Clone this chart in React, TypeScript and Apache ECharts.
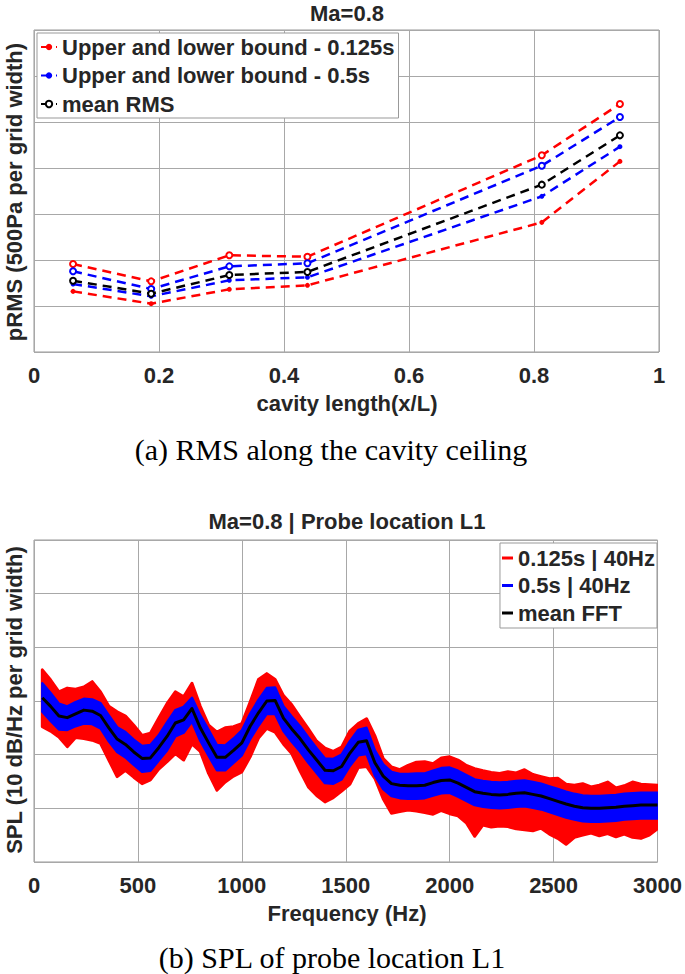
import React, { useEffect, useRef } from 'react';
import * as echarts from 'echarts';

// ---------- (a) RMS along the cavity ceiling ----------
const rmsX = [0.0625, 0.1875, 0.3125, 0.4375, 0.8125, 0.9375];
const rmsRedUpper = [957, 768, 1051, 1036, 2138, 2696];
const rmsRedLower = [659, 525, 681, 725, 1409, 2072];
const rmsBlueUpper = [877, 685, 931, 964, 2025, 2554];
const rmsBlueLower = [739, 605, 779, 812, 1692, 2232];
const rmsMean = [775, 634, 837, 870, 1819, 2355];

// ---------- (b) SPL of probe location L1 ----------
const freqHz = [
  40, 80, 120, 160, 200, 240, 280, 320, 360, 400, 440, 480, 520, 560, 600,
  640, 680, 720, 760, 800, 840, 880, 920, 960, 1000, 1040, 1080, 1120, 1160, 1200,
  1240, 1280, 1320, 1360, 1400, 1440, 1480, 1520, 1560, 1600, 1640, 1680, 1720, 1760, 1800,
  1840, 1880, 1920, 1960, 2000, 2040, 2080, 2120, 2160, 2200, 2240, 2280, 2320, 2360, 2400,
  2440, 2480, 2520, 2560, 2600, 2640, 2680, 2720, 2760, 2800, 2840, 2880, 2920, 2960, 3000,
];
const splMean = [
  120.6, 119.0, 117.2, 116.9, 117.6, 118.3, 118.1, 117.3, 115.0, 112.9, 111.9, 110.5, 109.3, 109.4, 111.3,
  113.4, 115.9, 116.5, 118.6, 115.0, 112.2, 109.5, 109.5, 110.8, 112.2, 115.3, 117.8, 120.0, 120.1, 116.8,
  114.8, 113.0, 110.9, 109.0, 107.1, 107.0, 107.8, 110.3, 112.3, 112.6, 108.5, 106.0, 104.6, 104.3, 104.2,
  104.2, 104.3, 104.8, 105.2, 105.3, 104.7, 103.9, 103.1, 102.8, 102.6, 102.5, 102.6, 102.8, 102.9, 102.6,
  102.3, 101.8, 101.3, 100.8, 100.4, 100.1, 100.0, 100.0, 100.1, 100.2, 100.4, 100.5, 100.6, 100.6, 100.6,
];
const splRedHigh = [
  125.8, 123.9, 121.7, 122.4, 122.2, 122.6, 123.6, 121.7, 119.0, 118.0, 117.2, 115.5, 113.6, 114.0, 116.8,
  119.5, 121.7, 120.8, 123.3, 119.0, 115.5, 114.2, 115.0, 115.2, 115.8, 119.8, 124.0, 125.1, 124.0, 121.0,
  119.3, 117.0, 114.8, 112.5, 111.2, 110.6, 111.4, 114.4, 115.8, 116.7, 113.5, 109.3, 107.7, 107.2, 108.0,
  108.6, 108.7, 108.3, 109.4, 109.6, 109.0, 108.0, 107.4, 107.0, 106.7, 106.5, 106.8, 106.6, 107.2, 106.3,
  105.9, 105.5, 105.6, 104.5, 104.3, 104.6, 104.0, 104.3, 104.9, 103.8, 104.2, 104.9, 104.5, 104.4, 104.3,
];
const splRedLow = [
  115.2, 114.4, 113.3, 111.5, 113.2, 113.0, 112.7, 112.1, 109.0, 105.9, 107.1, 105.8, 104.6, 105.3, 107.3,
  108.7, 110.2, 109.0, 112.0, 110.6, 106.5, 103.4, 104.9, 106.0, 106.8, 109.6, 113.1, 114.9, 114.2, 112.0,
  110.2, 107.0, 104.0, 102.4, 101.2, 102.0, 103.2, 104.5, 107.6, 107.8, 105.6, 101.8, 99.1, 99.4, 99.7,
  99.5, 99.2, 98.9, 99.6, 99.0, 98.6, 97.3, 94.8, 96.9, 96.5, 96.7, 96.6, 96.2, 96.0, 95.8,
  96.3, 95.2, 94.4, 93.3, 94.6, 95.0, 95.4, 94.9, 95.3, 94.7, 95.2, 94.6, 94.4, 95.0, 96.2,
];
const splBlueHigh = [
  123.3, 121.5, 119.5, 119.0, 119.8, 120.4, 120.3, 119.6, 117.3, 115.1, 114.2, 112.8, 111.6, 111.8, 113.6,
  116.0, 118.3, 118.9, 120.6, 117.3, 114.6, 111.8, 111.7, 113.0, 114.5, 117.6, 120.2, 122.4, 122.5, 119.0,
  117.1, 115.3, 113.2, 111.2, 109.3, 109.2, 110.0, 112.5, 114.6, 115.0, 110.8, 108.2, 106.8, 106.4, 106.4,
  106.5, 106.5, 107.0, 107.5, 107.6, 107.0, 106.2, 105.4, 105.1, 104.9, 104.8, 104.9, 105.1, 105.2, 104.9,
  104.6, 104.1, 103.6, 103.1, 102.7, 102.4, 102.3, 102.3, 102.4, 102.5, 102.7, 102.8, 102.9, 102.9, 102.9,
];
const splBlueLow = [
  118.0, 116.3, 114.7, 114.6, 115.3, 115.8, 115.7, 114.9, 112.5, 110.5, 109.5, 108.1, 106.8, 107.0, 108.9,
  110.8, 113.4, 114.1, 116.2, 112.6, 109.8, 107.1, 107.1, 108.5, 109.9, 112.9, 115.4, 117.6, 117.6, 114.4,
  112.4, 110.6, 108.5, 106.6, 104.7, 104.6, 105.4, 107.9, 109.9, 110.1, 106.1, 103.6, 102.3, 101.9, 101.8,
  101.8, 101.9, 102.4, 102.8, 102.9, 102.2, 101.4, 100.6, 100.3, 100.1, 100.0, 100.1, 100.3, 100.4, 100.1,
  99.8, 99.3, 98.8, 98.3, 97.9, 97.6, 97.5, 97.5, 97.6, 97.7, 97.9, 98.0, 98.1, 98.1, 98.1,
];

const SANS = "'Liberation Sans', Arial, Helvetica, sans-serif";
const SERIF = "'Liberation Serif', 'Times New Roman', serif";
const TXT = '#262626';
const RED = '#ff0000';
const BLUE = '#0000ff';
const BLACK = '#000000';

const pairs = (xs: number[], ys: number[]) => xs.map((x, i) => [x, ys[i]]);

export default function App() {
  const ref = useRef<HTMLDivElement>(null);
  useEffect(() => {
    if (!ref.current) return;
    const chart = echarts.init(ref.current, null, { renderer: 'svg' });
    const dash = [9, 6];
    const rmsLine = (name: string, color: string, ys: number[], filled: boolean) => ({
      type: 'line',
      name,
      xAxisIndex: 0,
      yAxisIndex: 0,
      data: pairs(rmsX, ys),
      symbol: filled ? 'circle' : 'emptyCircle',
      symbolSize: filled ? 5 : 6,
      showSymbol: true,
      itemStyle: { color, borderWidth: 1.5 },
      lineStyle: { color, width: 2.5, type: dash },
      z: 3,
    });
    const band = (name: string, color: string, hi: number[], lo: number[], lw: number) => ({
      type: 'custom',
      name,
      xAxisIndex: 1,
      yAxisIndex: 1,
      data: freqHz.map((f, i) => [f, hi[i], lo[i]]),
      encode: { x: 0, y: [1, 2] },
      itemStyle: { color },
      clip: true,
      renderItem: (params: any, api: any) => {
        if (params.dataIndex !== 0) return null;
        const top = freqHz.map((f, i) => api.coord([f, hi[i]]));
        const bot = freqHz.map((f, i) => api.coord([f, lo[i]])).reverse();
        return {
          type: 'polygon',
          shape: { points: top.concat(bot) },
          style: { fill: color, stroke: color, lineWidth: lw, lineJoin: 'round' },
        };
      },
    });
    const nameRed1 = 'Upper and lower bound - 0.125s';
    const nameBlue1 = 'Upper and lower bound - 0.5s';
    const nameMean1 = 'mean RMS';
    const nameRed2 = '0.125s | 40Hz';
    const nameBlue2 = '0.5s | 40Hz';
    const nameMean2 = 'mean FFT';
    const axisFont = { fontFamily: SANS, fontWeight: 'bold', fontSize: 22, color: TXT };
    const splitLine = { show: true, lineStyle: { color: '#a8a8a8', width: 1 } };
    const txt = (x: number, y: number, text: string, extra: any = {}) => ({
      type: 'text',
      x,
      y,
      rotation: extra.rotation || 0,
      style: {
        text,
        fontFamily: SANS,
        fontWeight: 'bold',
        fontSize: 22,
        fill: TXT,
        align: 'center',
        verticalAlign: 'middle',
        ...(extra.style || {}),
      },
    });
    const option: any = {
      animation: false,
      backgroundColor: '#ffffff',
      grid: [
        { left: 34, top: 30, width: 625, height: 322, show: true, borderColor: '#999', borderWidth: 1, backgroundColor: '#fff' },
        { left: 34, top: 540, width: 626, height: 322, show: true, borderColor: '#999', borderWidth: 1, backgroundColor: '#fff' },
      ],
      xAxis: [
        {
          type: 'value', gridIndex: 0, min: 0, max: 1, interval: 0.2,
          axisLine: { show: false }, axisTick: { show: false },
          axisLabel: { ...axisFont, margin: 12 }, splitLine,
        },
        {
          type: 'value', gridIndex: 1, min: 0, max: 3000, interval: 500,
          axisLine: { show: false }, axisTick: { show: false },
          axisLabel: { ...axisFont, margin: 12, formatter: (v: number) => String(v) }, splitLine,
        },
      ],
      yAxis: [
        {
          type: 'value', gridIndex: 0, min: 0, max: 3500, interval: 500,
          axisLine: { show: false }, axisTick: { show: false }, axisLabel: { show: false }, splitLine,
        },
        {
          type: 'value', gridIndex: 1, min: 90, max: 150, interval: 10,
          axisLine: { show: false }, axisTick: { show: false }, axisLabel: { show: false }, splitLine,
        },
      ],
      legend: [
        {
          left: 37, top: 33, orient: 'vertical',
          data: [nameRed1, nameBlue1, nameMean1],
          backgroundColor: '#fff', borderColor: '#999', borderWidth: 1,
          padding: [3, 4, 3, 3], itemGap: 6.5, itemWidth: 16, itemHeight: 8,
          textStyle: { fontFamily: SANS, fontWeight: 'bold', fontSize: 22, color: TXT },
          selectedMode: false,
        },
        {
          right: 28, top: 543, orient: 'vertical',
          data: [nameRed2, nameBlue2, nameMean2],
          backgroundColor: '#fff', borderColor: '#999', borderWidth: 1,
          padding: [4, 2, 4, 2], itemGap: 5.5, itemWidth: 11, itemHeight: 3, icon: 'rect',
          textStyle: { fontFamily: SANS, fontWeight: 'bold', fontSize: 22, color: TXT },
          selectedMode: false,
        },
      ],
      series: [
        rmsLine(nameRed1, RED, rmsRedLower, true),
        rmsLine(nameRed1, RED, rmsRedUpper, false),
        rmsLine(nameBlue1, BLUE, rmsBlueLower, true),
        rmsLine(nameBlue1, BLUE, rmsBlueUpper, false),
        rmsLine(nameMean1, BLACK, rmsMean, false),
        band(nameRed2, RED, splRedHigh, splRedLow, 3),
        band(nameBlue2, BLUE, splBlueHigh, splBlueLow, 2.5),
        {
          type: 'line', name: nameMean2, xAxisIndex: 1, yAxisIndex: 1,
          data: pairs(freqHz, splMean), symbol: 'none', showSymbol: false,
          itemStyle: { color: BLACK }, lineStyle: { color: BLACK, width: 3, join: 'round' },
          z: 3,
        },
      ],
      graphic: [
        txt(347, 13, 'Ma=0.8'),
        txt(347, 403, 'cavity length(x/L)'),
        txt(14, 192, 'pRMS (500Pa per grid width)', { rotation: Math.PI / 2 }),
        txt(331, 449, '(a) RMS along the cavity ceiling', {
          style: { fontFamily: SERIF, fontWeight: 'normal', fontSize: 30, fill: '#000' },
        }),
        txt(347, 521, 'Ma=0.8 | Probe location L1'),
        txt(347, 913, 'Frequency (Hz)'),
        txt(14, 700, 'SPL (10 dB/Hz per grid width)', { rotation: Math.PI / 2 }),
        txt(332, 957, '(b) SPL of probe location L1', {
          style: { fontFamily: SERIF, fontWeight: 'normal', fontSize: 30, fill: '#000' },
        }),
      ],
    };
    chart.setOption(option);
    return () => chart.dispose();
  }, []);
  return (
    <div
      ref={ref}
      style={{ position: 'absolute', left: 0, top: 0, width: 685, height: 974, background: '#fff' }}
    />
  );
}
